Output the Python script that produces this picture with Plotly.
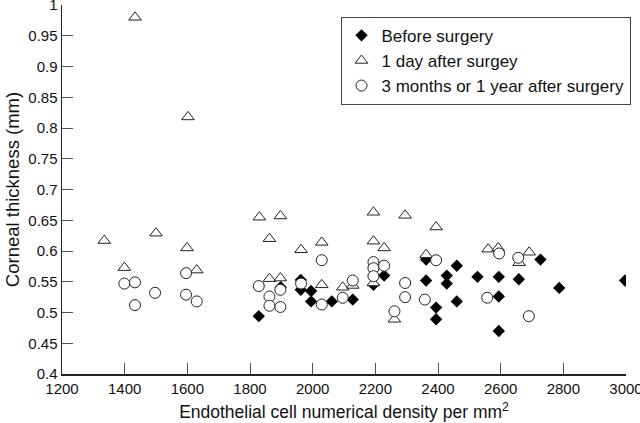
import plotly.graph_objects as go

# ---- data ----
before_x = [1828, 1898, 1962, 1962, 1995, 1995, 2061, 2128, 2194, 2228, 2362, 2362,
            2394, 2394, 2428, 2428, 2460, 2460, 2526, 2594, 2594, 2594, 2658, 2727,
            2787, 2997]
before_y = [0.494, 0.541, 0.537, 0.553, 0.535, 0.518, 0.518, 0.521, 0.545, 0.560, 0.586, 0.552,
            0.508, 0.489, 0.560, 0.547, 0.576, 0.518, 0.558, 0.558, 0.526, 0.470, 0.554, 0.586,
            0.540, 0.552]

day1_x = [1335, 1399, 1433, 1500, 1599, 1602, 1630, 1830, 1862, 1862, 1897, 1897,
          1963, 2029, 2029, 2096, 2128, 2194, 2194, 2194, 2228, 2295, 2261, 2362,
          2394, 2560, 2592, 2659, 2691]
day1_y = [0.617, 0.573, 0.980, 0.629, 0.605, 0.818, 0.569, 0.655, 0.620, 0.555, 0.657, 0.556,
          0.602, 0.614, 0.545, 0.541, 0.544, 0.663, 0.616, 0.548, 0.605, 0.658, 0.489, 0.594,
          0.639, 0.603, 0.605, 0.581, 0.598]

late_x = [1399, 1433, 1433, 1497, 1596, 1596, 1630, 1828, 1862, 1862, 1897, 1897,
          1963, 2029, 2029, 2096, 2128, 2194, 2194, 2194, 2228, 2261, 2295, 2295,
          2358, 2394, 2557, 2595, 2656, 2690]
late_y = [0.547, 0.549, 0.512, 0.532, 0.564, 0.529, 0.518, 0.543, 0.526, 0.511, 0.537, 0.509,
          0.547, 0.585, 0.513, 0.524, 0.552, 0.582, 0.572, 0.559, 0.576, 0.502, 0.548, 0.525,
          0.521, 0.585, 0.524, 0.596, 0.589, 0.494]

series_names = ["Before surgery", "1 day after surgey", "3 months or 1 year after surgery"]

x_tickvals = [1200, 1400, 1600, 1800, 2000, 2200, 2400, 2600, 2800, 3000]
x_ticktext = ["1200", "1400", "1600", "1800", "2000", "2200", "2400", "2600", "2800", "3000"]
y_tickvals = [0.4, 0.45, 0.5, 0.55, 0.6, 0.65, 0.7, 0.75, 0.8, 0.85, 0.9, 0.95, 1.0]
y_ticktext = ["0.4", "0.45", "0.5", "0.55", "0.6", "0.65", "0.7", "0.75", "0.8", "0.85", "0.9", "0.95", "1"]

FONT = "Liberation Sans, Arial, Helvetica, sans-serif"

fig = go.Figure()
fig.add_trace(go.Scatter(
    x=before_x, y=before_y, mode="markers", name=series_names[0],
    marker=dict(symbol="diamond", size=9.5, color="black", line=dict(width=0)),
))
fig.add_trace(go.Scatter(
    x=day1_x, y=day1_y, mode="markers", name=series_names[1],
    marker=dict(symbol="triangle-up", size=11, color="white", line=dict(width=1, color="#222")),
))
fig.add_trace(go.Scatter(
    x=late_x, y=late_y, mode="markers", name=series_names[2],
    marker=dict(symbol="circle", size=11, color="white", line=dict(width=1, color="#222")),
))

axis_common = dict(
    showgrid=False, zeroline=False, showline=True, linecolor="#222", linewidth=1.5,
    ticks="inside", ticklen=11, tickwidth=1, tickcolor="#555", mirror=False,
    tickfont=dict(family=FONT, size=15, color="#111"),
    ticklabeloverflow="allow", automargin=False,
)

fig.update_layout(
    width=640, height=423,
    margin=dict(l=62, r=14, t=5, b=48.5, autoexpand=False),
    paper_bgcolor="white", plot_bgcolor="white",
    font=dict(family=FONT, color="#111"),
    hovermode=False,
    xaxis=dict(range=[1200, 3000], tickvals=x_tickvals, ticktext=x_ticktext,
               title=dict(text="Endothelial cell numerical density per mm<sup>2</sup>",
                          font=dict(family=FONT, size=17.5), standoff=10),
               **axis_common),
    yaxis=dict(range=[0.4, 1.0], tickvals=y_tickvals, ticktext=y_ticktext,
               title=dict(text="Corneal thickness (mm)",
                          font=dict(family=FONT, size=18.5), standoff=4),
               **axis_common),
    legend=dict(
        x=1.008, xanchor="right", y=0.968, yanchor="top",
        bordercolor="#444", borderwidth=1, bgcolor="white",
        font=dict(family=FONT, size=17, color="#111"),
        itemwidth=30, tracegroupgap=0,
    ),
    showlegend=True,
)

fig.write_html("out.html", config={"displayModeBar": False, "staticPlot": True},
               post_script="document.body.style.margin='0';")
